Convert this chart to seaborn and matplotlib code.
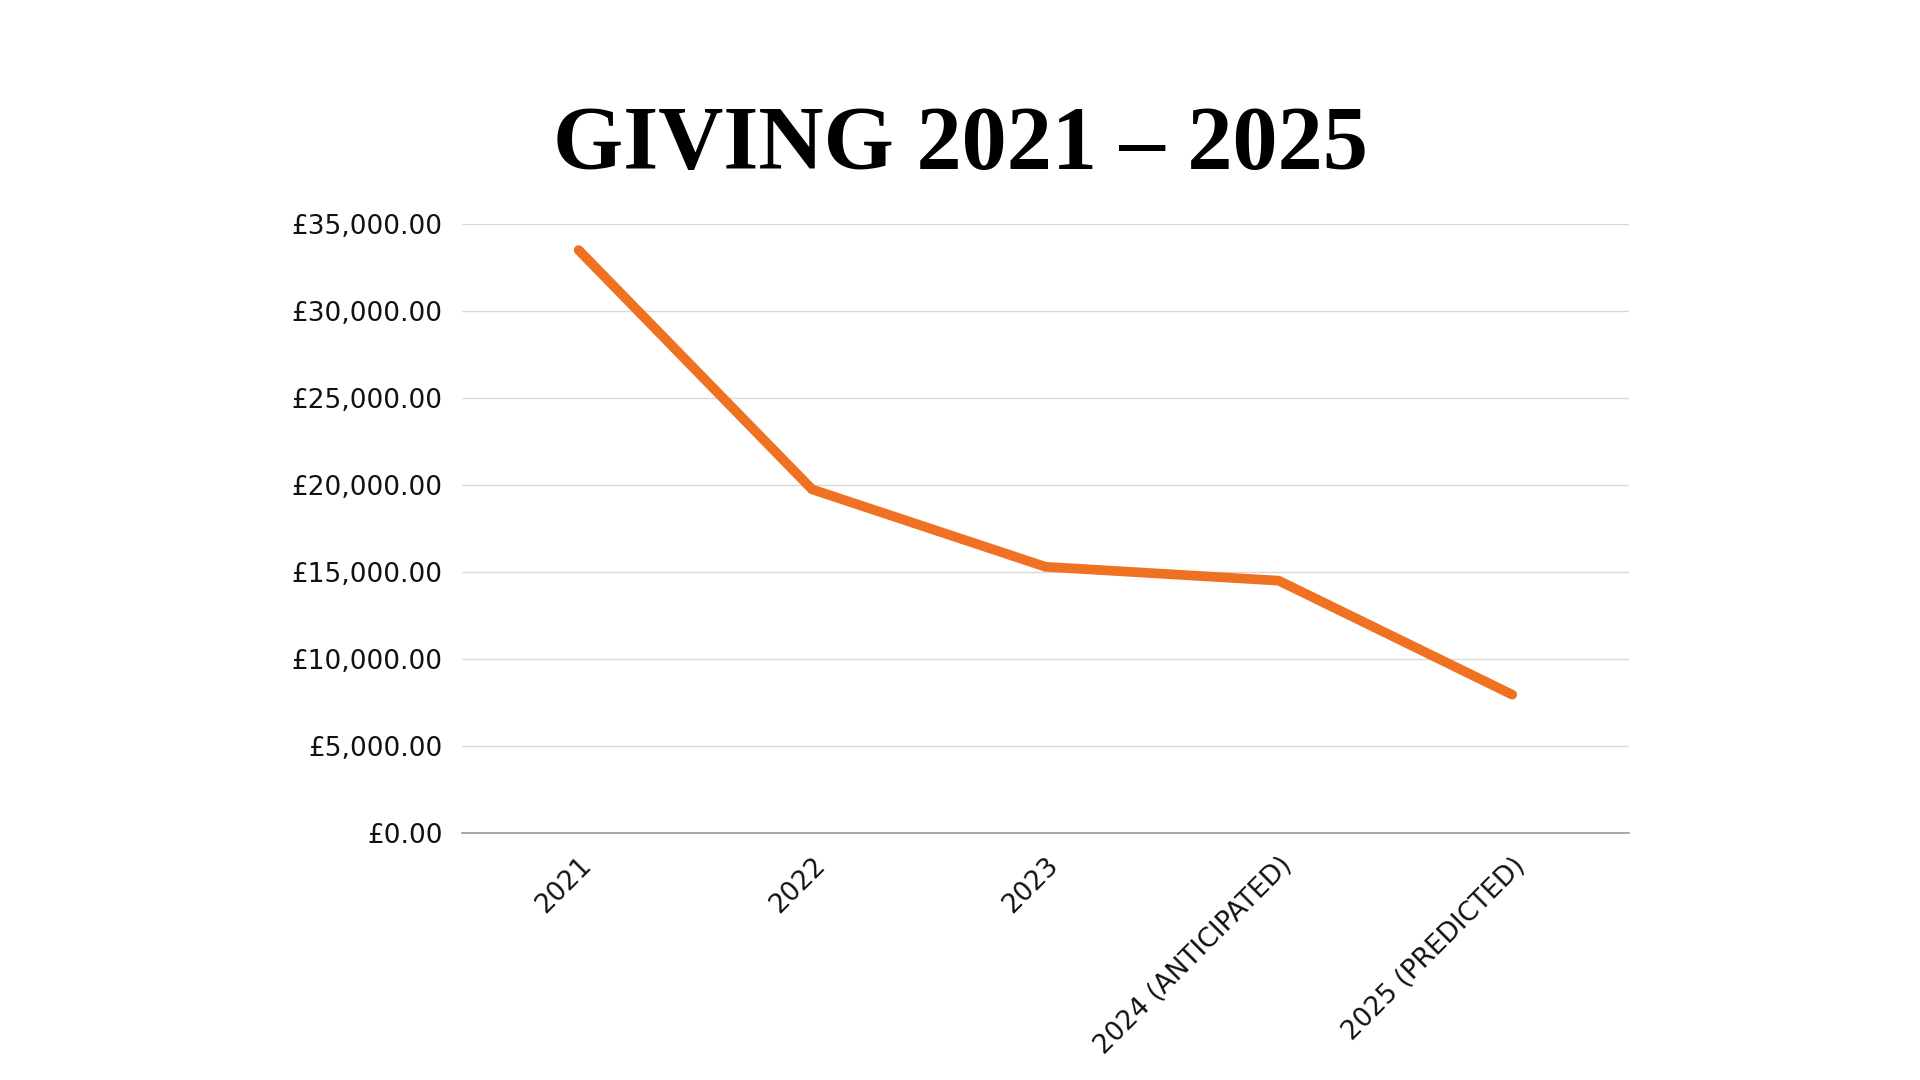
import matplotlib
matplotlib.use("Agg")
import matplotlib.pyplot as plt
import seaborn as sns
from matplotlib.ticker import FuncFormatter

# Data
years = ["2021", "2022", "2023", "2024 (ANTICIPATED)", "2025 (PREDICTED)"]
giving = [33500, 19750, 15300, 14500, 7950]
y_ticks = [0, 5000, 10000, 15000, 20000, 25000, 30000, 35000]

sns.set_theme(style="white")
plt.rcParams["font.family"] = ["DejaVu Sans"]

fig = plt.figure(figsize=(19.2, 10.8), dpi=100)
ax = fig.add_axes([0.2406, 0.2287, 0.6078, 0.5639])

sns.lineplot(x=years, y=giving, ax=ax, color="#EF7223", linewidth=7,
             solid_joinstyle="miter", solid_capstyle="round")

ax.set_xlim(-0.5, 4.5)
ax.set_ylim(0, 35000)
ax.set_yticks(y_ticks)
ax.yaxis.set_major_formatter(FuncFormatter(lambda v, p: f"£{v:,.2f}"))
ax.grid(axis="y", color="#d9d9d9", linewidth=1)
ax.set_axisbelow(True)

for s in ["top", "right", "left"]:
    ax.spines[s].set_visible(False)
ax.spines["bottom"].set_color("#9a9a9a")
ax.spines["bottom"].set_linewidth(1.2)

ax.tick_params(axis="y", length=0, pad=14, labelsize=19, labelcolor="#111111")
ax.tick_params(axis="x", length=0, pad=14, labelsize=19, labelcolor="#111111")
plt.setp(ax.get_xticklabels(), rotation=45, ha="right", rotation_mode="anchor")
ax.set_xlabel("")
ax.set_ylabel("")

fig.text(0.5, 0.8435, "GIVING 2021 – 2025", ha="center", va="baseline",
         fontsize=65, fontweight="bold", family=["Liberation Serif", "DejaVu Serif"],
         color="#000000")

fig.savefig("out.png", dpi=100, facecolor="white")
